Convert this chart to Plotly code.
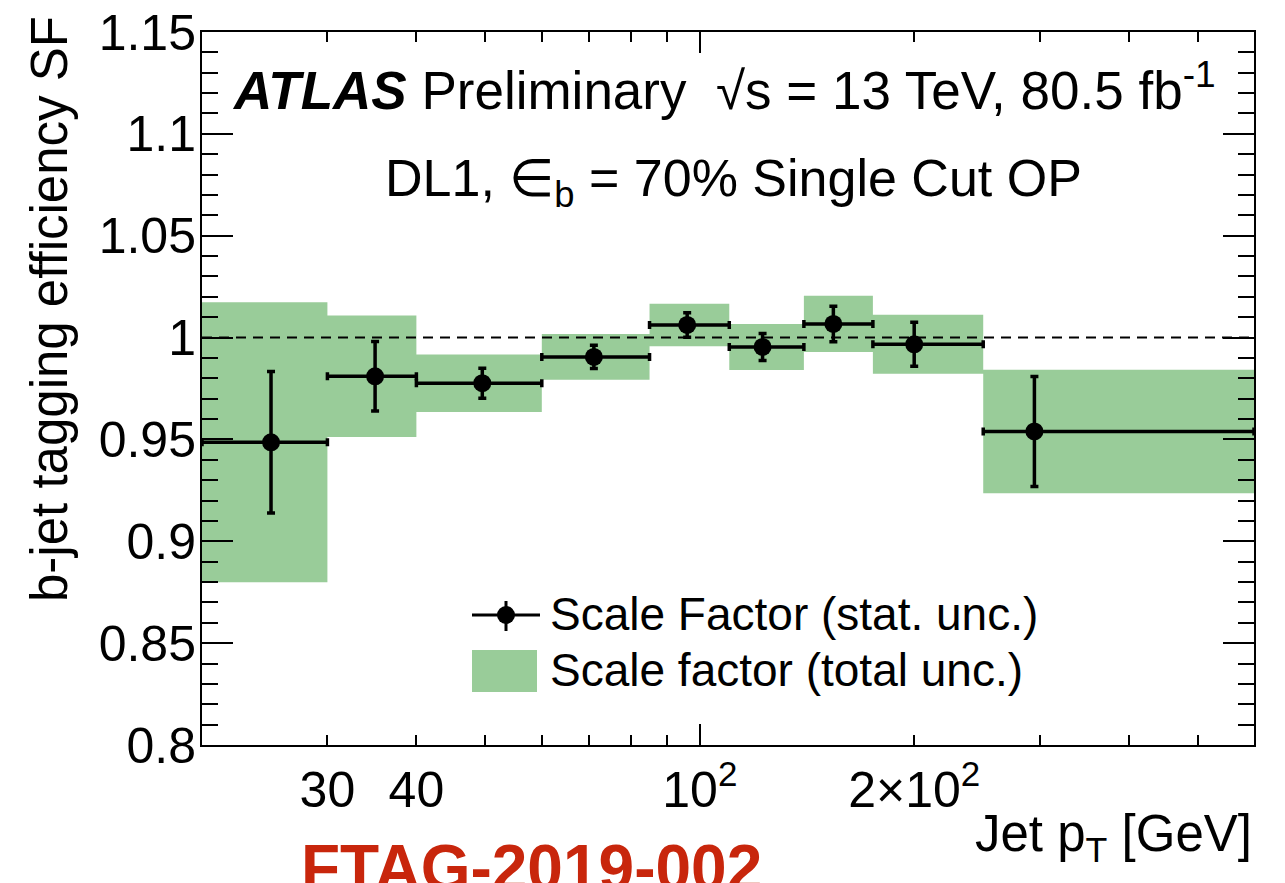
import math
import plotly.graph_objects as go

# ---------------- data ----------------
pt_edges = [20, 30, 40, 60, 85, 110, 140, 175, 250, 600]
pt_center = [25, 35, 49.5, 71, 96, 122.5, 154, 200, 295]
sf = [0.9486, 0.9810, 0.9776, 0.9905, 1.0062, 0.9954, 1.0067, 0.9967, 0.9539]
stat_unc = [0.0347, 0.0171, 0.0074, 0.0057, 0.0060, 0.0066, 0.0087, 0.0108, 0.0270]
tot_unc = [0.0687, 0.0298, 0.0141, 0.0112, 0.0104, 0.0113, 0.0138, 0.0145, 0.0303]

x_tickvals = [30, 40, 100, 200]
x_ticktext = ["30", "40", "10<sup>2</sup>", "2×10<sup>2</sup>"]
x_minor = [50, 60, 70, 80, 90, 300, 400, 500]
y_tickvals = [0.8, 0.85, 0.9, 0.95, 1.0, 1.05, 1.1, 1.15]
y_ticktext = ["0.8", "0.85", "0.9", "0.95", "1", "1.05", "1.1", "1.15"]

GREEN = "rgb(153,204,153)"
FONT = "Liberation Sans, Arial, Helvetica, sans-serif"
W, H = 1285, 883
L, R, T, B = 202, 1254, 32, 745


def px_x(p):
    return (p - L) / (R - L)


def px_y(p):
    return (B - p) / (B - T)


fig = go.Figure()

# total uncertainty boxes (one polygon per bin, separated by None)
bx, by = [], []
for i in range(len(sf)):
    x0, x1 = pt_edges[i], pt_edges[i + 1]
    y0, y1 = sf[i] - tot_unc[i], sf[i] + tot_unc[i]
    bx += [x0, x1, x1, x0, x0, None]
    by += [y0, y0, y1, y1, y0, None]
fig.add_trace(go.Scatter(
    x=bx, y=by, mode="lines", fill="toself", fillcolor=GREEN,
    line=dict(width=0, color=GREEN), name="Scale factor (total unc.)",
    showlegend=False, hoverinfo="skip"))

# scale factors with stat. unc.
fig.add_trace(go.Scatter(
    x=pt_center, y=sf, mode="markers",
    marker=dict(color="black", size=18),
    error_y=dict(type="data", array=stat_unc, color="black", thickness=3.5, width=4),
    error_x=dict(type="data",
                 array=[pt_edges[i + 1] - pt_center[i] for i in range(len(sf))],
                 arrayminus=[pt_center[i] - pt_edges[i] for i in range(len(sf))],
                 color="black", thickness=3.5, width=4),
    name="Scale Factor (stat. unc.)", showlegend=False))

# dashed reference line at SF = 1 (on overlay axis so it sits on top)
fig.add_trace(go.Scatter(
    x=[pt_edges[0], pt_edges[-1]], y=[1.0, 1.0], mode="lines",
    line=dict(color="black", width=2, dash="10px,7px"),
    xaxis="x2", yaxis="y", showlegend=False, hoverinfo="skip"))

xr = [math.log10(pt_edges[0]), math.log10(pt_edges[-1])]

axis_common = dict(showline=True, linecolor="black", linewidth=2, mirror="ticks",
                   ticks="inside", tickcolor="black", tickwidth=2, showgrid=False,
                   zeroline=False, automargin=False)

fig.update_layout(
    width=W, height=H,
    margin=dict(l=L, r=W - R, t=T, b=H - B, pad=0, autoexpand=False),
    paper_bgcolor="white", plot_bgcolor="white",
    font=dict(family=FONT, color="black", size=49),
    xaxis=dict(type="log", range=xr, tickvals=x_tickvals, ticktext=x_ticktext,
               ticklen=10, ticklabelstandoff=0,
               tickfont=dict(size=50),
               minor=dict(tickvals=x_minor, ticklen=10, tickwidth=2,
                          tickcolor="black", ticks="inside", showgrid=False),
               **axis_common),
    xaxis2=dict(type="log", range=xr, overlaying="x", matches="x",
                tickvals=[100], ticklen=21, showticklabels=False,
                showline=False, mirror="ticks", ticks="inside", automargin=False,
                tickcolor="black", tickwidth=2, showgrid=False, zeroline=False),
    yaxis=dict(range=[0.8, 1.15], tickvals=y_tickvals, ticktext=y_ticktext,
               ticklen=31, tickfont=dict(size=50), ticklabelstandoff=-6,
               minor=dict(dtick=0.01, ticklen=16, tickwidth=2, tickcolor="black",
                          ticks="inside", showgrid=False),
               **axis_common),
    showlegend=False,
)

ann = []
# axis titles
ann.append(dict(text="Jet p<sub>T</sub> [GeV]", xref="paper", yref="paper",
                x=1.0, y=px_y(838), xanchor="right", yanchor="middle",
                showarrow=False, font=dict(size=51)))
ann.append(dict(text="b-jet tagging efficiency SF", xref="paper", yref="paper",
                x=px_x(50), y=px_y(14), xanchor="center", yanchor="top",
                textangle=-90, showarrow=False, font=dict(size=51)))
# ATLAS labels
ann.append(dict(text="<b><i>ATLAS</i></b> Preliminary  √s = 13 TeV, 80.5 fb<sup>-1</sup>",
                xref="paper", yref="paper", x=px_x(230), y=px_y(86),
                xanchor="left", yanchor="middle", showarrow=False,
                font=dict(size=53)))
ann.append(dict(text="DL1, ∈<sub>b</sub> = 70% Single Cut OP",
                xref="paper", yref="paper", x=px_x(733), y=px_y(182),
                xanchor="center", yanchor="middle", showarrow=False,
                font=dict(size=52)))
# legend text
ann.append(dict(text="Scale Factor (stat. unc.)", xref="paper", yref="paper",
                x=px_x(548), y=px_y(614), xanchor="left", yanchor="middle",
                showarrow=False, font=dict(size=46)))
ann.append(dict(text="Scale factor (total unc.)", xref="paper", yref="paper",
                x=px_x(548), y=px_y(670), xanchor="left", yanchor="middle",
                showarrow=False, font=dict(size=46)))
# reference label (cut at the page bottom, as in the original)
ann.append(dict(text="<b>FTAG-2019-002</b>", xref="paper", yref="paper",
                x=px_x(531), y=px_y(868), xanchor="center", yanchor="middle",
                showarrow=False, font=dict(size=64, color="rgb(200,38,12)")))
fig.update_layout(annotations=ann)

# legend keys
shapes = [
    dict(type="line", xref="paper", yref="paper", x0=px_x(472), x1=px_x(540),
         y0=px_y(615), y1=px_y(615), line=dict(color="black", width=3)),
    dict(type="line", xref="paper", yref="paper", x0=px_x(506), x1=px_x(506),
         y0=px_y(601), y1=px_y(631), line=dict(color="black", width=3)),
    dict(type="circle", xref="paper", yref="paper", x0=px_x(497), x1=px_x(515),
         y0=px_y(606), y1=px_y(624), fillcolor="black", line=dict(color="black", width=0)),
    dict(type="rect", xref="paper", yref="paper", x0=px_x(472), x1=px_x(537),
         y0=px_y(650), y1=px_y(692), fillcolor=GREEN, line=dict(width=0)),
]
fig.update_layout(shapes=shapes)

fig.write_html("out.html")
